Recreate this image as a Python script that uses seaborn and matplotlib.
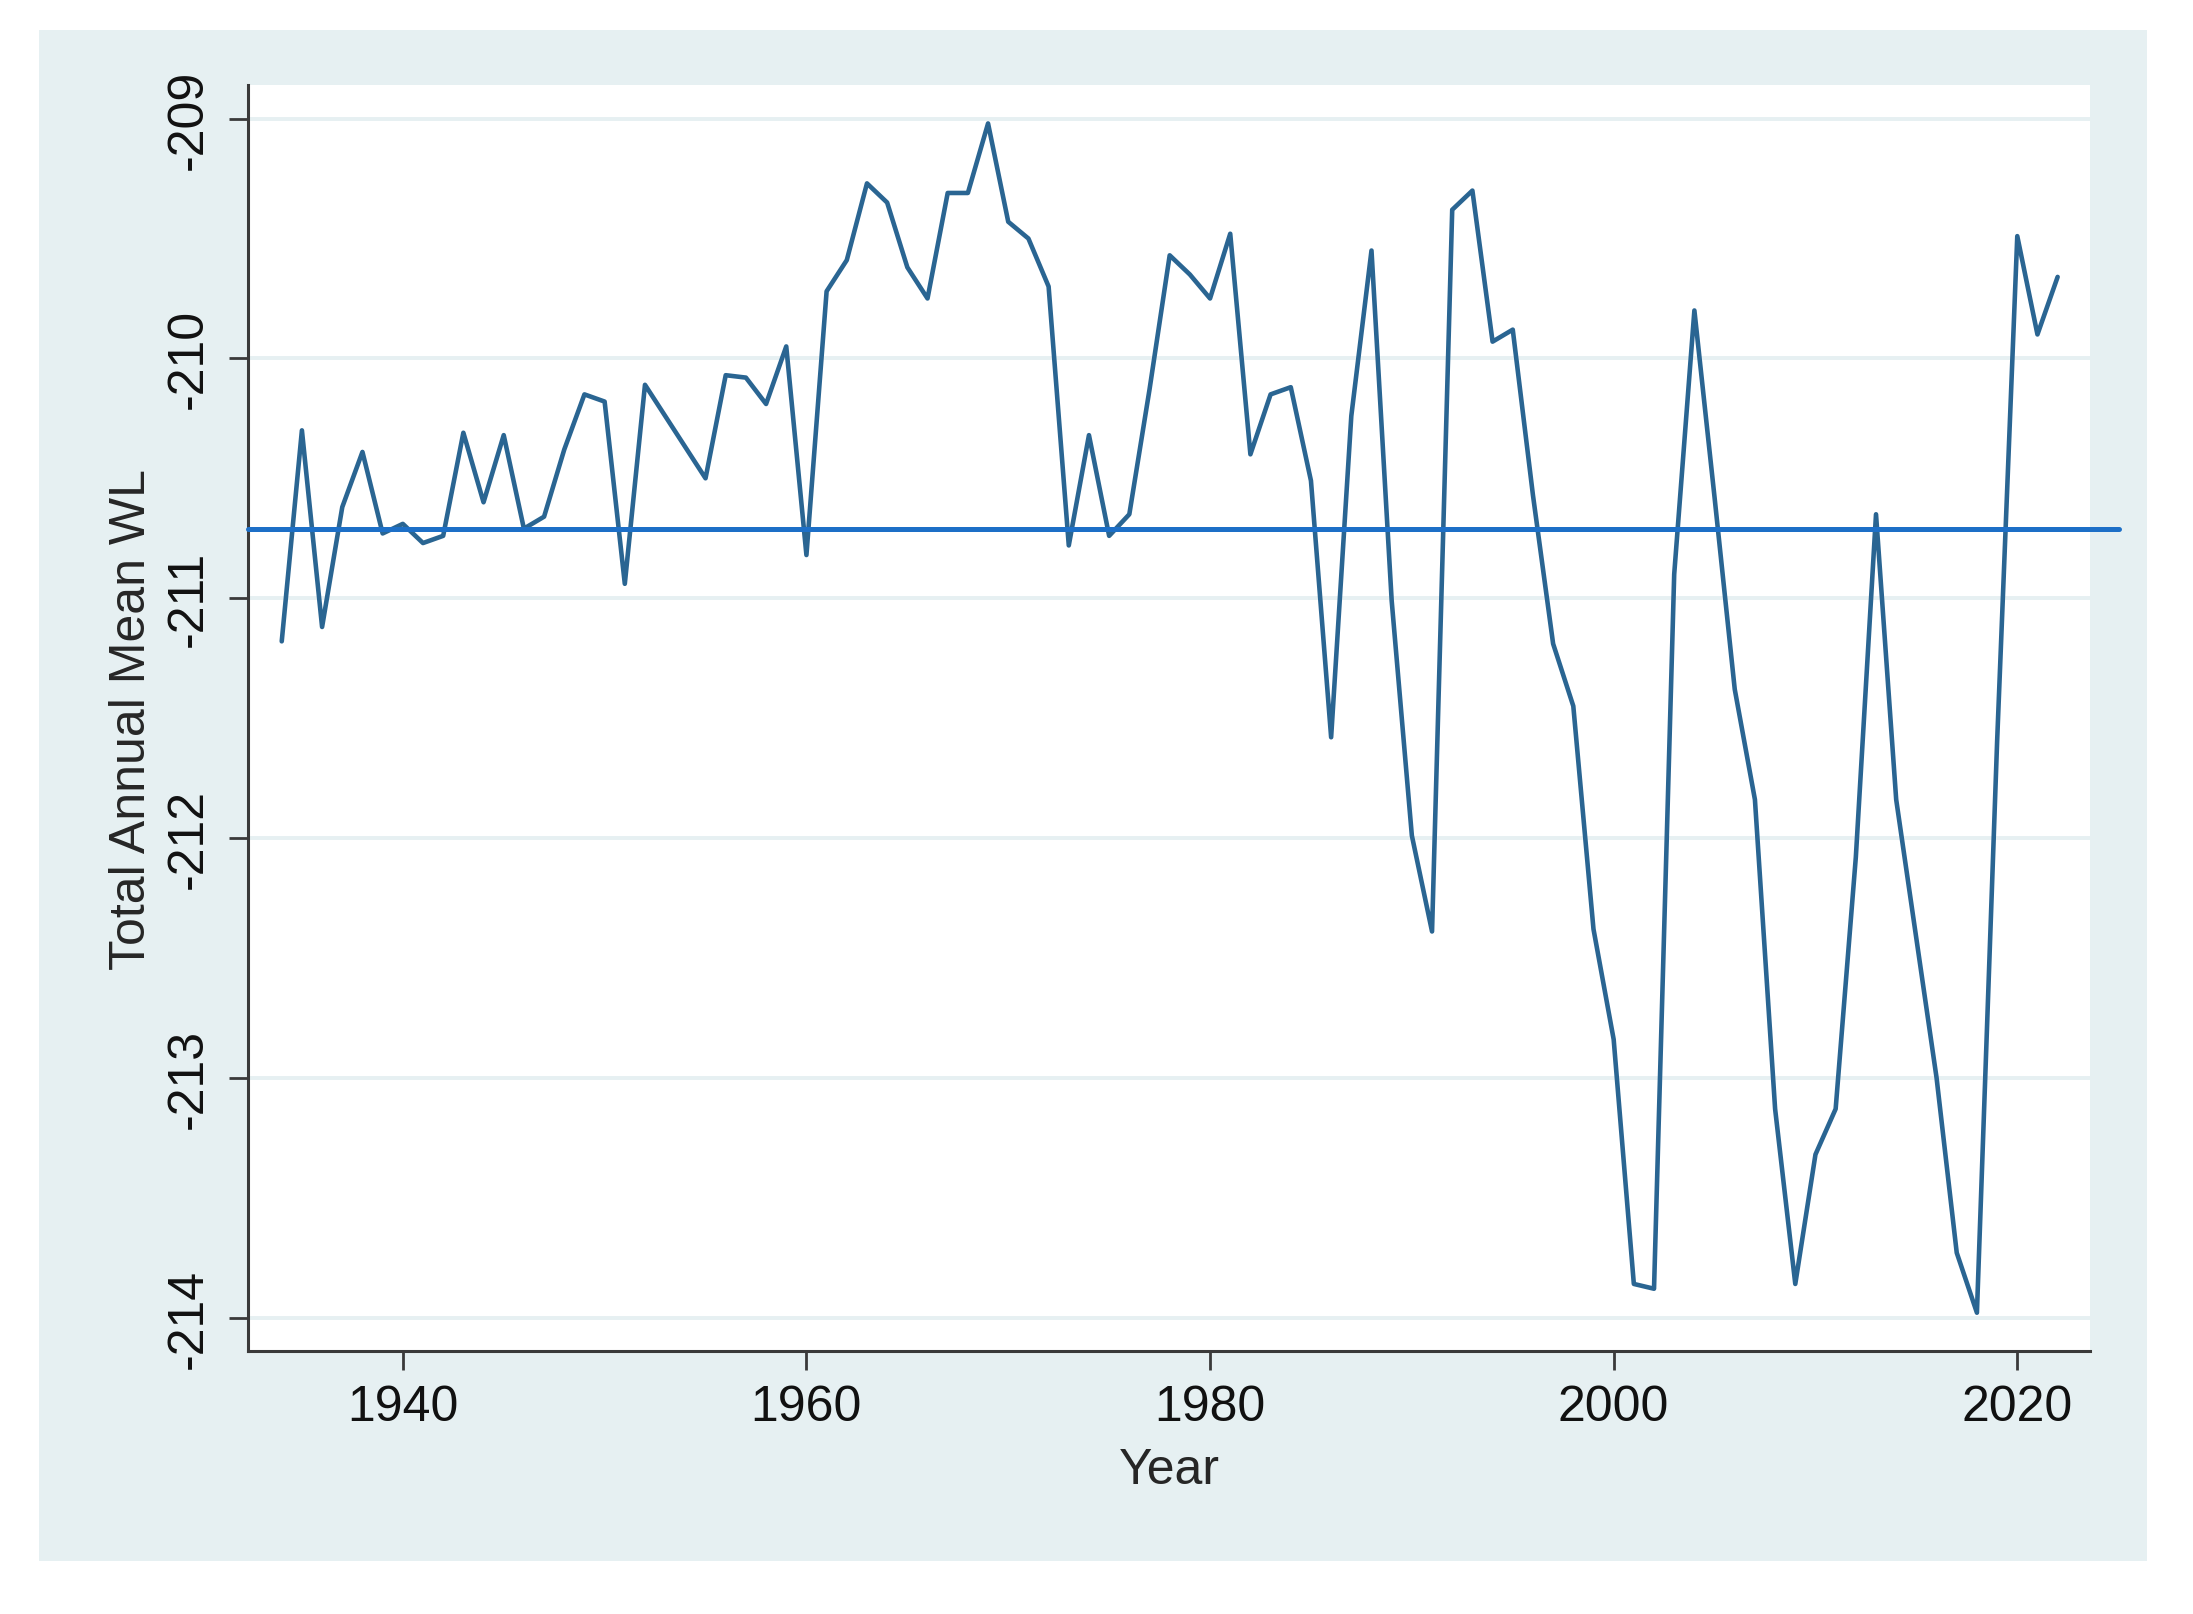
import matplotlib
matplotlib.use("Agg")
import matplotlib.pyplot as plt
from matplotlib.patches import Rectangle
import pandas as pd
import seaborn as sns

# annual mean water level
years = list(range(1934, 2023))
wl = [-211.18, -210.30, -211.12, -210.62, -210.39, -210.73, -210.69, -210.77, -210.74, -210.31,
      -210.60, -210.32, -210.71, -210.66, -210.38, -210.15, -210.18, -210.94, -210.11, -210.24,
      -210.37, -210.50, -210.07, -210.08, -210.19, -209.95, -210.82, -209.72, -209.59, -209.27,
      -209.35, -209.62, -209.75, -209.31, -209.31, -209.02, -209.43, -209.50, -209.70, -210.78,
      -210.32, -210.74, -210.65, -210.13, -209.57, -209.65, -209.75, -209.48, -210.40, -210.15,
      -210.12, -210.51, -211.58, -210.24, -209.55, -211.01, -211.99, -212.39, -209.38, -209.30,
      -209.93, -209.88, -210.57, -211.19, -211.45, -212.38, -212.84, -213.86, -213.88, -210.90,
      -209.80, -210.58, -211.38, -211.84, -213.13, -213.86, -213.32, -213.13, -212.08, -210.65,
      -211.84, -212.42, -213.00, -213.73, -213.98, -211.60, -209.49, -209.90, -209.66]
mean_wl = -210.71
xticks = [1940, 1960, 1980, 2000, 2020]
yticks = [-214, -213, -212, -211, -210, -209]

df = pd.DataFrame({"Year": years, "WL": wl})

sns.set_style("white")
plt.rcParams['font.family'] = ['Liberation Sans', 'DejaVu Sans']

fig = plt.figure(figsize=(21.93, 16.15), dpi=100)
fig.patch.set_facecolor("white")
# stata style outer panel, kept behind the axes
fig.patches.append(Rectangle((0.0178, 0.0328), 0.9612, 0.948, transform=fig.transFigure,
                             facecolor="#e6f0f2", edgecolor="none", zorder=-10))

ax = fig.add_axes([0.1131, 0.1628, 0.8399, 0.7839])
ax.set_facecolor("white")

sns.lineplot(data=df, x="Year", y="WL", ax=ax, color="#2a6592", linewidth=3.3)
ax.axhline(mean_wl, xmin=0, xmax=1.016, color="#1d6fc7", linewidth=3.6, clip_on=False, zorder=3)

ax.set_xlim(1932.33, 2023.6)
ax.set_ylim(-214.14, -208.86)
ax.set_xticks(xticks)
ax.set_yticks(yticks)
ax.set_yticklabels([str(t) for t in yticks], rotation=90, va="center")

ax.yaxis.grid(True, color="#e6f0f2", linewidth=2.8)
ax.xaxis.grid(False)

for s in ["top", "right"]:
    ax.spines[s].set_visible(False)
for s in ["left", "bottom"]:
    ax.spines[s].set_color("#3a3a3a")
    ax.spines[s].set_linewidth(2.2)

ax.tick_params(axis="both", direction="out", length=14, width=2, color="#3a3a3a",
               labelsize=36, labelcolor="#111111", bottom=True, left=True)
ax.tick_params(axis="y", pad=12)
ax.tick_params(axis="x", pad=10)

ax.set_xlabel("Year", fontsize=36, labelpad=12)
ax.set_ylabel("Total Annual Mean WL", fontsize=36, labelpad=8)

fig.savefig("out.png", dpi=100, facecolor=fig.get_facecolor())
